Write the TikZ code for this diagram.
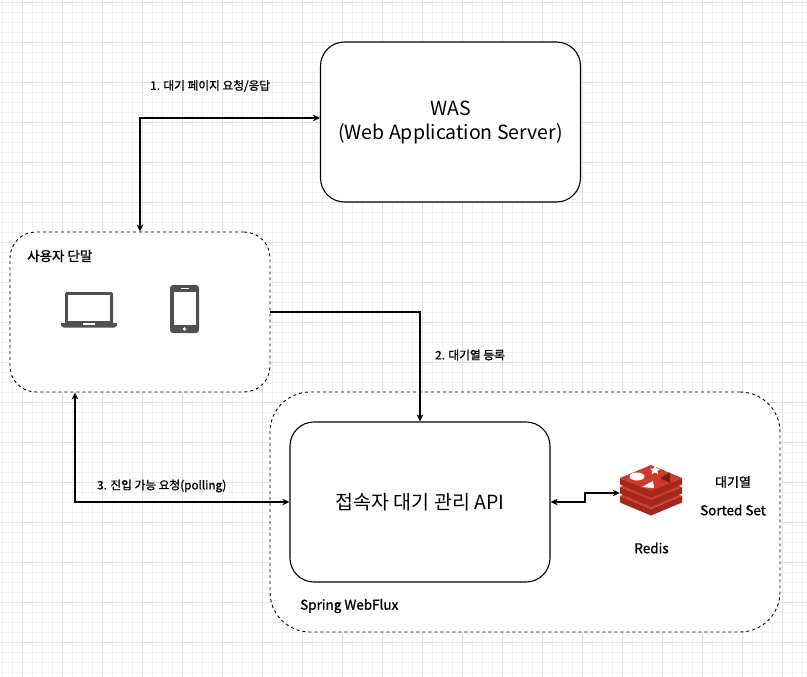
\documentclass[tikz,border=0pt]{standalone}
\usepackage{fontspec}
\setmainfont{Noto Sans CJK KR}
\newfontfamily\medfont{Noto Sans CJK KR}[FakeBold=1.2]
\usetikzlibrary{arrows.meta,calc}
\definecolor{gridminor}{HTML}{F2F2F2}
\definecolor{gridmajor}{HTML}{E2E2E2}
\definecolor{iconcol}{HTML}{505050}
\definecolor{redtop}{HTML}{CC3A2E}
\definecolor{redside}{HTML}{A3271C}
\definecolor{reddark}{HTML}{7A1A12}
\tikzset{
  solidbox/.style={draw=black, line width=1.1pt, fill=white, rounded corners=24pt, minimum width=260pt, minimum height=160pt, align=center, font=\fontsize{19.5}{24}\selectfont},
  dashbox/.style={draw=black, line width=0.9pt, dash pattern=on 3pt off 3pt, fill=white, rounded corners=26pt},
  lbl/.style={font=\medfont\fontsize{11.7}{14}\selectfont, inner sep=0pt},
  txt/.style={font=\medfont\fontsize{13.5}{16}\selectfont, inner sep=0pt},
  arr/.style={line width=1.1pt, -{Stealth[length=7pt,width=6.5pt,inset=2pt]}},
  darr/.style={line width=1.1pt, {Stealth[length=7pt,width=6.5pt,inset=2pt]}-{Stealth[length=7pt,width=6.5pt,inset=2pt]}},
}
\begin{document}
\begin{tikzpicture}[x=1pt,y=-1pt]
\useasboundingbox (0,0) rectangle (807,677);
\fill[white] (0,0) rectangle (807,677);
\foreach \x in {2,12,...,802} \draw[gridminor, line width=0.8pt] (\x,0) -- (\x,677);
\foreach \y in {2,12,...,672} \draw[gridminor, line width=0.8pt] (0,\y) -- (807,\y);
\foreach \x in {22,62,...,782} \draw[gridmajor, line width=0.8pt] (\x,0) -- (\x,677);
\foreach \y in {2,42,...,642} \draw[gridmajor, line width=0.8pt] (0,\y) -- (807,\y);

% boxes
\node[dashbox, rounded corners=40pt, minimum width=510pt, minimum height=240pt] (outer) at (525,512) {};
\node[dashbox, minimum width=260pt, minimum height=160pt] (user) at (140,312) {};
\node[solidbox] (was) at (450.5,122) {WAS\\(Web Application Server)};
\node[solidbox] (api) at (420,502) {접속자 대기 관리 API};

% texts
\node[txt, anchor=west] (utitle) at (27,256) {사용자 단말};
\node[txt, anchor=west] (sw) at (300,606) {Spring WebFlux};
\node[txt] (rlbl) at (651.5,548) {Redis};
\node[txt, font=\medfont\fontsize{13}{16}\selectfont] (q1) at (733,482) {대기열};
\node[txt] (q2) at (733,510) {Sorted Set};

% laptop
\fill[iconcol, rounded corners=1.5pt] (65,292) rectangle (113,324);
\fill[white] (68,295) rectangle (110,320.5);
\fill[iconcol] (61,323) -- (117,323) -- (117,325.5) -- (114.5,327.5) -- (63.5,327.5) -- (61,325.5) -- cycle;
\fill[white] (83,323) rectangle (95,324.6);

% phone
\fill[iconcol, rounded corners=3pt] (170,285) rectangle (199,333);
\fill[white] (173.5,291.5) rectangle (195.5,325);
\fill[white] (180.5,287.6) rectangle (188.5,288.8);
\fill[white] (184.5,329) circle (1.8pt);

% redis icon
\node[minimum width=62pt, minimum height=54pt, inner sep=0pt] (redis) at (651,493) {};
\foreach \b in {496,487,478} {
  \fill[redside] (620,\b) -- (651,\b+13) -- (682,\b) -- (682,\b+6.5) -- (651,\b+19.5) -- (620,\b+6.5) -- cycle;
  \fill[redtop] (620,\b) -- (651,\b-13) -- (682,\b) -- (651,\b+13) -- cycle;
}
\fill[white] (637,476.5) ellipse (7.5pt and 4pt);
\fill[white] (655,465.5) -- (656.6,468.4) -- (660,468.8) -- (657.5,470.8) -- (658.2,474) -- (655,472.4) -- (651.8,474) -- (652.5,470.8) -- (650,468.8) -- (653.4,468.4) -- cycle;
\fill[white] (642,487) -- (653,481) -- (654,488) -- cycle;
\fill[reddark] (660,478) -- (670,472.5) -- (670,483) -- cycle;

% connectors
\draw[darr] (user.north) |- ($(was.west)+(0,-4)$);
\node[lbl, anchor=west] (l1) at (150,86) {1. 대기 페이지 요청/응답};
\draw[arr] (user.east) -| (api.north);
\node[lbl, anchor=west] (l2) at (435,355) {2. 대기열 등록};
\coordinate (p3) at (75,502);
\draw[darr] (user.south -| p3) |- (api.west);
\node[lbl, anchor=west] (l3) at (97,486) {3. 진입 가능 요청(polling)};
\coordinate (r1) at (585,502);
\draw[darr] (api.east) -- (r1) |- (redis.west);
\end{tikzpicture}
\end{document}
